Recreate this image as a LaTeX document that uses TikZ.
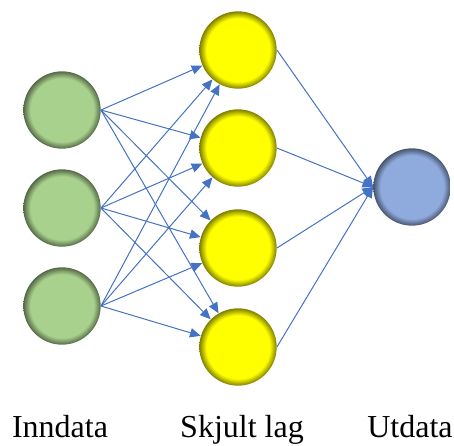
\documentclass[tikz,border=0pt]{standalone}
\usepackage{fontspec}
\setmainfont{Liberation Serif}
\usetikzlibrary{arrows.meta}

\definecolor{ingreen}{HTML}{A9D18E}
\definecolor{hidyellow}{HTML}{FFFF00}
\definecolor{outblue}{HTML}{8FAADC}
\definecolor{linkblue}{HTML}{4472C4}

\pgfdeclareradialshading{greenball}{\pgfpoint{0bp}{0bp}}{color(0bp)=(ingreen); color(20.5bp)=(ingreen); color(25bp)=(ingreen!50!black); color(50bp)=(ingreen!50!black)}
\pgfdeclareradialshading{yellowball}{\pgfpoint{0bp}{0bp}}{color(0bp)=(hidyellow); color(20.5bp)=(hidyellow); color(25bp)=(hidyellow!50!black); color(50bp)=(hidyellow!50!black)}
\pgfdeclareradialshading{blueball}{\pgfpoint{0bp}{0bp}}{color(0bp)=(outblue); color(20.5bp)=(outblue); color(25bp)=(outblue!50!black); color(50bp)=(outblue!50!black)}

\begin{document}
\begin{tikzpicture}[
  x=0.75pt, y=-0.75pt,
  neuron/.style={circle, minimum size=58pt, inner sep=0pt},
  inneuron/.style={neuron, shading=greenball},
  hidneuron/.style={neuron, shading=yellowball},
  outneuron/.style={neuron, shading=blueball},
  link/.style={draw=linkblue, line width=0.75pt, -{Triangle[length=8pt,width=7pt]}},
  caption/.style={anchor=base, font=\fontsize{24}{28}\selectfont}
]
\useasboundingbox (0,0) rectangle (454,446);

\node[inneuron] (in1) at (62,110) {};
\node[inneuron] (in2) at (62,208) {};
\node[inneuron] (in3) at (62,306) {};

\node[hidneuron] (hid1) at (238,50) {};
\node[hidneuron] (hid2) at (238,148) {};
\node[hidneuron] (hid3) at (238,248) {};
\node[hidneuron] (hid4) at (238,347) {};

\node[outneuron] (out) at (412,187) {};

\node[caption] (lblin) at (60,437) {Inndata};
\node[caption] (lblhid) at (242,437) {Skjult lag};
\node[caption] (lblout) at (410,437) {Utdata};

\draw[link] (in1.east) -- (hid1);
\draw[link] (in1.east) -- (hid2);
\draw[link] (in1.east) -- (hid3);
\draw[link] (in1.east) -- (hid4);
\draw[link] (in2.east) -- (hid1);
\draw[link] (in2.east) -- (hid2);
\draw[link] (in2.east) -- (hid3);
\draw[link] (in2.east) -- (hid4);
\draw[link] (in3.east) -- (hid1);
\draw[link] (in3.east) -- (hid2);
\draw[link] (in3.east) -- (hid3);
\draw[link] (in3.east) -- (hid4);

\draw[link] (hid1.east) -- (out.west);
\draw[link] (hid2.east) -- (out.west);
\draw[link] (hid3.east) -- (out.west);
\draw[link] (hid4.east) -- (out.west);
\end{tikzpicture}
\end{document}
